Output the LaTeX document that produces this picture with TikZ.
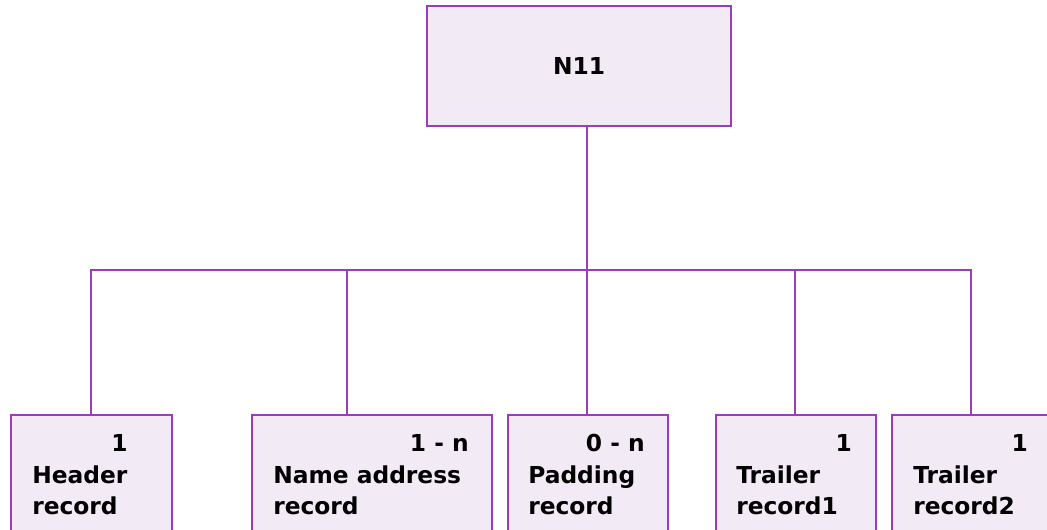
\documentclass[tikz,border=0pt]{standalone}
\usepackage{fontspec}
\setmainfont{DejaVu Sans}
\usetikzlibrary{positioning}

\definecolor{recline}{HTML}{9A3DBA}
\definecolor{recfill}{HTML}{F2EAF4}

\tikzset{
  recbox/.style={draw=recline, fill=recfill, line width=1.5pt, rectangle, anchor=north west, inner sep=0pt, minimum height=105pt},
  reccount/.style={anchor=base east, inner sep=0pt, font=\fontsize{17.5}{23.25}\selectfont\bfseries},
  recname/.style={anchor=base west, inner sep=0pt, align=left, font=\fontsize{17.5}{23.25}\selectfont\bfseries},
  link/.style={draw=recline, line width=1.5pt}
}

\begin{document}
\begin{tikzpicture}[x=0.75pt, y=-0.75pt]
  \useasboundingbox (0,0) rectangle (1047,530);
  \clip (0,0) rectangle (1047,530);

  \node (n11) at (579,66) [draw=recline, fill=recfill, line width=1.5pt, rectangle, minimum width=228pt, minimum height=90pt, font=\fontsize{17.5}{23.25}\selectfont\bfseries] {N11};

  \node (hdr) at (10,414) [recbox, minimum width=120.75pt] {};
  \node (nam) at (251,414) [recbox, minimum width=180pt] {};
  \node (pad) at (507,414) [recbox, minimum width=120pt] {};
  \node (tr1) at (715,414) [recbox, minimum width=120pt] {};
  \node (tr2) at (891,414) [recbox, minimum width=120pt] {};

  \node (hdrn) at (128,452) [reccount] {1};
  \node (namn) at (469,452) [reccount] {1 - n};
  \node (padn) at (645,452) [reccount] {0 - n};
  \node (tr1n) at (852,452) [reccount] {1};
  \node (tr2n) at (1028,452) [reccount] {1};

  \node (hdrt) at (32,515) [recname] {Header\\record};
  \node (namt) at (273,515) [recname] {Name address\\record};
  \node (padt) at (528,515) [recname] {Padding\\record};
  \node (tr1t) at (736,515) [recname] {Trailer\\record1};
  \node (tr2t) at (913,515) [recname] {Trailer\\record2};

  % branch points on the bar
  \coordinate (j1) at (91,270);
  \coordinate (j2) at (347,270);
  \coordinate (j3) at (587,270);
  \coordinate (j4) at (795,270);
  \coordinate (j5) at (971,270);

  \draw [link] (j3 |- n11.south) -- (j3);
  \draw [link] (j1 |- hdr.north) -- (j1) -- (j5) -- (j5 |- tr2.north);
  \draw [link] (j2) -- (j2 |- nam.north);
  \draw [link] (j3) -- (j3 |- pad.north);
  \draw [link] (j4) -- (j4 |- tr1.north);
\end{tikzpicture}
\end{document}
